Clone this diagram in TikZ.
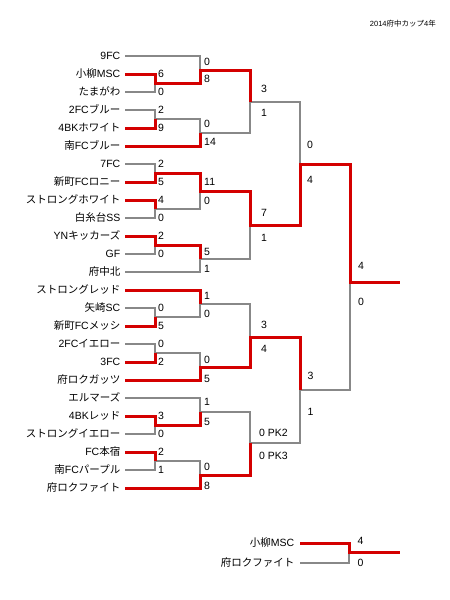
\documentclass[tikz,border=0pt]{standalone}
\usepackage{fontspec}
\setmainfont{Liberation Sans}
\newfontfamily\jp{Noto Sans CJK JP}
\newcommand\J[1]{{\jp #1}}
\definecolor{winred}{RGB}{212,0,0}
\definecolor{losegray}{RGB}{136,136,136}
\begin{document}
\begin{tikzpicture}[x=1pt,y=-1pt,
  team/.style={anchor=east, inner sep=0pt, text height=7.6pt, text depth=0pt, font=\fontsize{10.5}{12}\selectfont},
  score/.style={anchor=west, inner sep=0pt, text height=7.6pt, text depth=0pt, font=\fontsize{10.5}{12}\selectfont},
  win/.style={draw=winred, line width=3pt},
  lose/.style={draw=losegray, line width=2pt}]
\useasboundingbox (0,0) rectangle (450,600);
% title
\node[anchor=east, inner sep=0pt, font=\fontsize{7.5}{9}\selectfont] (title) at (436,24) {2014\J{府中カップ}4\J{年}};
% teams
\node[team] (t1) at (120.5,56) {9FC};
\node[team] (t2) at (120.5,74) {\J{小柳}MSC};
\node[team] (t3) at (120.5,92) {\J{たまがわ}};
\node[team] (t4) at (120.5,110) {2FC\J{ブルー}};
\node[team] (t5) at (120.5,128) {4BK\J{ホワイト}};
\node[team] (t6) at (120.5,146) {\J{南}FC\J{ブルー}};
\node[team] (t7) at (120.5,164) {7FC};
\node[team] (t8) at (120.5,182) {\J{新町}FC\J{ロニー}};
\node[team] (t9) at (120.5,200) {\J{ストロングホワイト}};
\node[team] (t10) at (120.5,218) {\J{白糸台}SS};
\node[team] (t11) at (120.5,236) {YN\J{キッカーズ}};
\node[team] (t12) at (120.5,254) {GF};
\node[team] (t13) at (120.5,272) {\J{府中北}};
\node[team] (t14) at (120.5,290) {\J{ストロングレッド}};
\node[team] (t15) at (120.5,308) {\J{矢崎}SC};
\node[team] (t16) at (120.5,326) {\J{新町}FC\J{メッシ}};
\node[team] (t17) at (120.5,344) {2FC\J{イエロー}};
\node[team] (t18) at (120.5,362) {3FC};
\node[team] (t19) at (120.5,380) {\J{府ロクガッツ}};
\node[team] (t20) at (120.5,398) {\J{エルマーズ}};
\node[team] (t21) at (120.5,416) {4BK\J{レッド}};
\node[team] (t22) at (120.5,434) {\J{ストロングイエロー}};
\node[team] (t23) at (120.5,452) {FC\J{本宿}};
\node[team] (t24) at (120.5,470) {\J{南}FC\J{パープル}};
\node[team] (t25) at (120.5,488) {\J{府ロクファイト}};
% joints
\coordinate (A) at (155,83);
\coordinate (B) at (155,119);
\coordinate (C) at (155,173);
\coordinate (D) at (155,209);
\coordinate (E) at (155,245);
\coordinate (F) at (155,317);
\coordinate (G) at (155,353);
\coordinate (H) at (155,425);
\coordinate (I) at (155,461);
\coordinate (J) at (200,70);
\coordinate (K) at (200,132.5);
\coordinate (L) at (200,191);
\coordinate (M) at (200,258.5);
\coordinate (N) at (200,304);
\coordinate (O) at (200,367);
\coordinate (P) at (200,412);
\coordinate (Q) at (200,475);
\coordinate (R) at (250,101.5);
\coordinate (S) at (250,225);
\coordinate (T) at (250,337);
\coordinate (U) at (250,443);
\coordinate (V) at (300,164);
\coordinate (W) at (300,390);
\coordinate (X) at (350,282);
\coordinate (Fin) at (400,282);
% losing arms
\draw[lose] ([xshift=4.5pt]t1.east) -| (J);
\draw[lose] ([xshift=4.5pt]t3.east) -| (A);
\draw[lose] ([xshift=4.5pt]t4.east) -| (B);
\draw[lose] (B) -| (K);
\draw[lose] (K) -| (R);
\draw[lose] (R) -| (V);
\draw[lose] ([xshift=4.5pt]t7.east) -| (C);
\draw[lose] ([xshift=4.5pt]t10.east) -| (D);
\draw[lose] (D) -| (L);
\draw[lose] ([xshift=4.5pt]t12.east) -| (E);
\draw[lose] ([xshift=4.5pt]t13.east) -| (M);
\draw[lose] (M) -| (S);
\draw[lose] ([xshift=4.5pt]t15.east) -| (F);
\draw[lose] (F) -| (N);
\draw[lose] (N) -| (T);
\draw[lose] ([xshift=4.5pt]t17.east) -| (G);
\draw[lose] (G) -| (O);
\draw[lose] ([xshift=4.5pt]t20.east) -| (P);
\draw[lose] ([xshift=4.5pt]t22.east) -| (H);
\draw[lose] ([xshift=4.5pt]t24.east) -| (I);
\draw[lose] (I) -| (Q);
\draw[lose] (P) -| (U);
\draw[lose] (U) -| (W);
\draw[lose] (W) -| (X);
% winning runs
\draw[win] ([xshift=4.5pt]t2.east) -| (A) -| (J) -| (R);
\draw[win] ([xshift=4.5pt]t5.east) -| (B);
\draw[win] ([xshift=4.5pt]t6.east) -| (K);
\draw[win] ([xshift=4.5pt]t8.east) -| (C) -| (L) -| (S) -| (V) -| (X) -- (Fin);
\draw[win] ([xshift=4.5pt]t9.east) -| (D);
\draw[win] ([xshift=4.5pt]t11.east) -| (E) -| (M);
\draw[win] ([xshift=4.5pt]t14.east) -| (N);
\draw[win] ([xshift=4.5pt]t16.east) -| (F);
\draw[win] ([xshift=4.5pt]t18.east) -| (G);
\draw[win] ([xshift=4.5pt]t19.east) -| (O) -| (T) -| (W);
\draw[win] ([xshift=4.5pt]t21.east) -| (H) -| (P);
\draw[win] ([xshift=4.5pt]t23.east) -| (I);
\draw[win] ([xshift=4.5pt]t25.east) -| (Q) -| (U);
% scores round 1
\node[score] (sA1) at (158,74) {6};
\node[score] (sA2) at (158,92) {0};
\node[score] (sB1) at (158,110) {2};
\node[score] (sB2) at (158,128) {9};
\node[score] (sC1) at (158,164) {2};
\node[score] (sC2) at (158,182) {5};
\node[score] (sD1) at (158,200) {4};
\node[score] (sD2) at (158,218) {0};
\node[score] (sE1) at (158,236) {2};
\node[score] (sE2) at (158,254) {0};
\node[score] (sF1) at (158,308) {0};
\node[score] (sF2) at (158,326) {5};
\node[score] (sG1) at (158,344) {0};
\node[score] (sG2) at (158,362) {2};
\node[score] (sH1) at (158,416) {3};
\node[score] (sH2) at (158,434) {0};
\node[score] (sI1) at (158,452) {2};
\node[score] (sI2) at (158,470) {1};
% round 2
\node[score] (sJ1) at (204,62) {0};
\node[score] (sJ2) at (204,79) {8};
\node[score] (sK1) at (204,124) {0};
\node[score] (sK2) at (204,141.5) {14};
\node[score] (sL1) at (204,182) {11};
\node[score] (sL2) at (204,201) {0};
\node[score] (sM1) at (204,251.5) {5};
\node[score] (sM2) at (204,268.5) {1};
\node[score] (sN1) at (204,296) {1};
\node[score] (sN2) at (204,314) {0};
\node[score] (sO1) at (204,360) {0};
\node[score] (sO2) at (204,379) {5};
\node[score] (sP1) at (204,402) {1};
\node[score] (sP2) at (204,422) {5};
\node[score] (sQ1) at (204,467) {0};
\node[score] (sQ2) at (204,486) {8};
% round 3
\node[score] (sR1) at (261,88.5) {3};
\node[score] (sR2) at (261,112.5) {1};
\node[score] (sS1) at (261,213) {7};
\node[score] (sS2) at (261,238) {1};
\node[score] (sT1) at (261,325) {3};
\node[score] (sT2) at (261,349) {4};
\node[score] (sU1) at (259,432.5) {0 PK2};
\node[score] (sU2) at (259,456) {0 PK3};
% round 4
\node[score] (sV1) at (307,144.5) {0};
\node[score] (sV2) at (307,180) {4};
\node[score] (sW1) at (307.5,376) {3};
\node[score] (sW2) at (307.5,411.5) {1};
% final
\node[score] (sX1) at (358,266) {4};
\node[score] (sX2) at (358,301.5) {0};
% extra match
\node[team] (b1) at (294.5,543) {\J{小柳}MSC};
\node[team] (b2) at (294.5,563) {\J{府ロクファイト}};
\coordinate (Y) at (349,552);
\coordinate (Yend) at (400,552);
\draw[lose] ([xshift=5.5pt]b2.east) -| (Y);
\draw[win] ([xshift=5.5pt]b1.east) -| (Y) -- (Yend);
\node[score] (sY1) at (357.5,541) {4};
\node[score] (sY2) at (357.5,563) {0};
\end{tikzpicture}
\end{document}
